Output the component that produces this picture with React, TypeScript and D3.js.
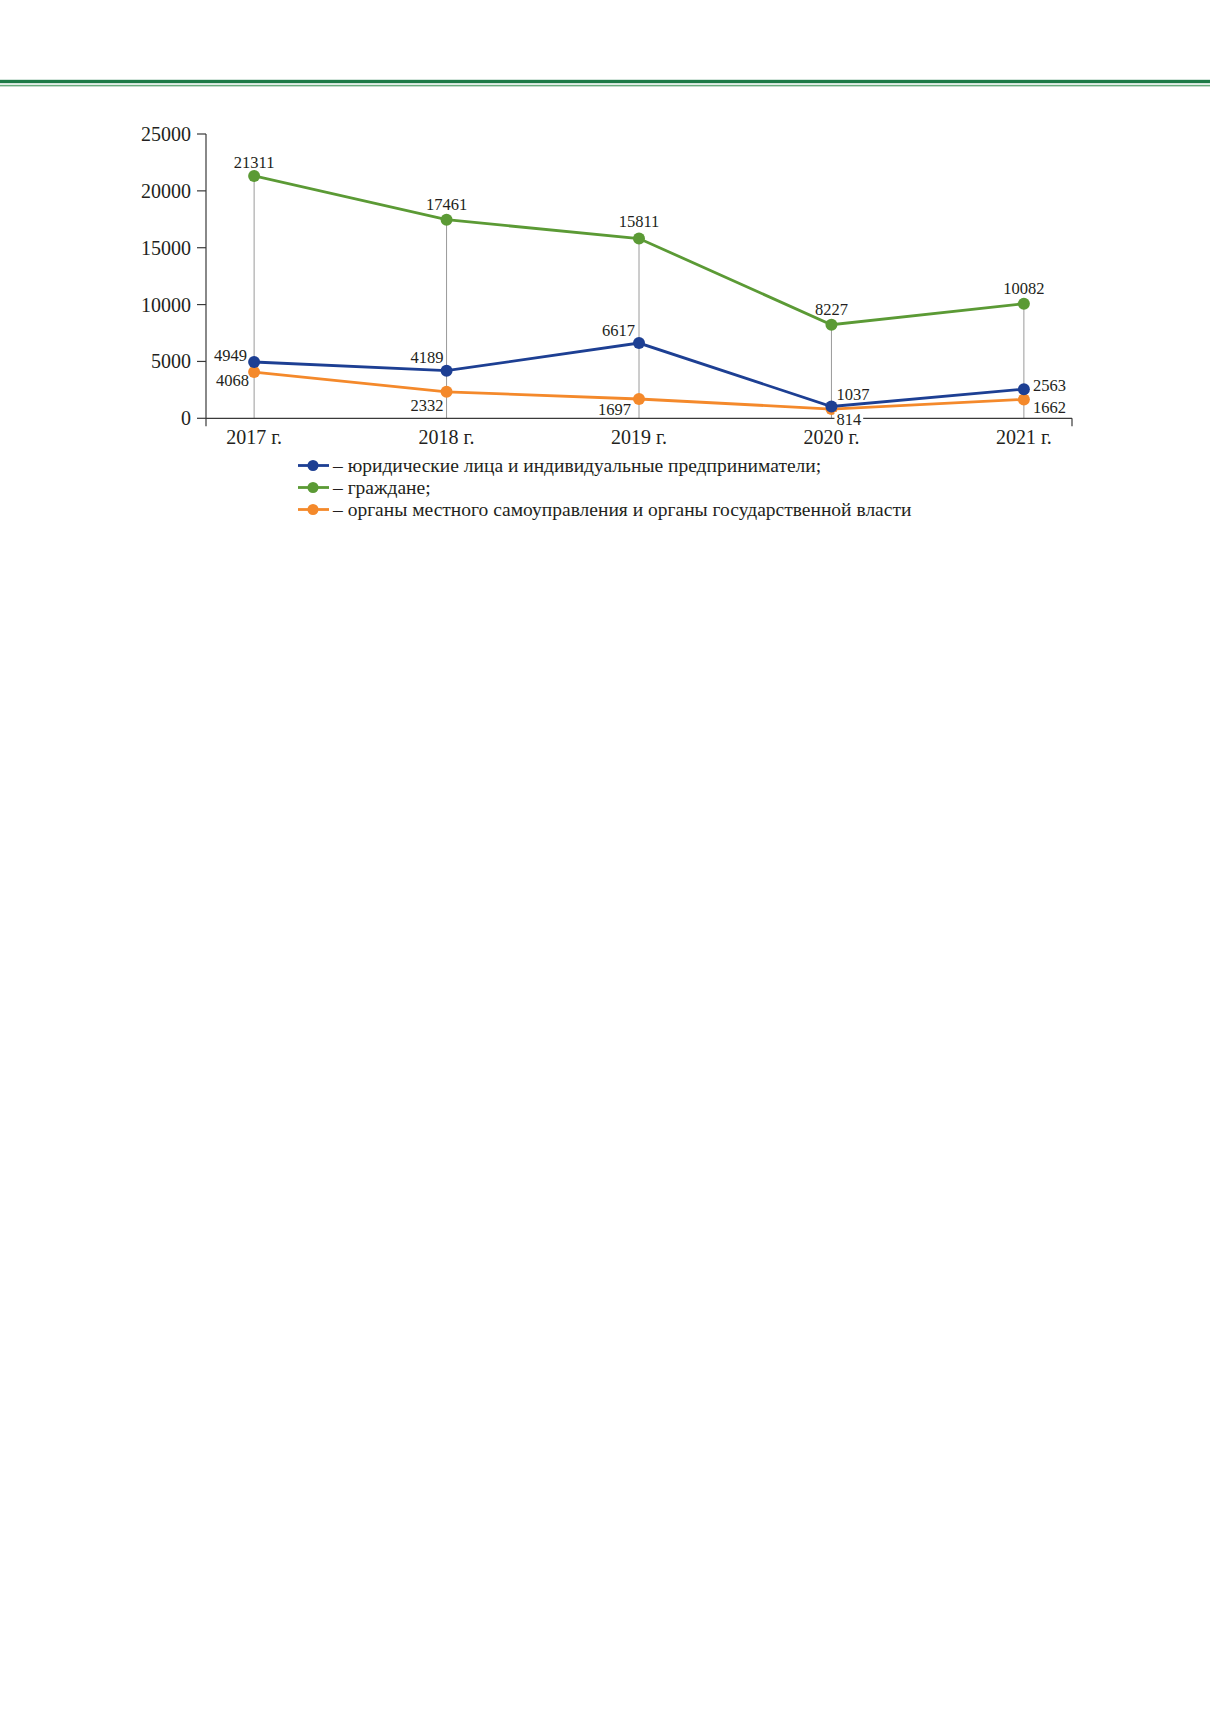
import * as d3 from 'd3'
import { useEffect, useRef } from 'react'

const years = ['2017 г.', '2018 г.', '2019 г.', '2020 г.', '2021 г.']
const legal = [4949, 4189, 6617, 1037, 2563]
const citizens = [21311, 17461, 15811, 8227, 10082]
const authorities = [4068, 2332, 1697, 814, 1662]
const yTicks = [0, 5000, 10000, 15000, 20000, 25000]
const legendLabels = [
  '– юридические лица и индивидуальные предприниматели;',
  '– граждане;',
  '– органы местного самоуправления и органы государственной власти',
]

const BLUE = '#1d3f93'
const GREEN = '#5b9a35'
const ORANGE = '#f4892b'

// label placement per series: [dx, dy, anchor]
type Place = [number, number, string]
const legalPlace: Place[] = [[-7, -1, 'end'], [-3, -8, 'end'], [-4, -7, 'end'], [5, -7, 'start'], [9, 2, 'start']]
const citizensPlace: Place[] = [[0, -8, 'middle'], [0, -10, 'middle'], [0, -11, 'middle'], [0, -10, 'middle'], [0, -10, 'middle']]
const authPlace: Place[] = [[-5, 14, 'end'], [-3, 19, 'end'], [-8, 16, 'end'], [5, 16, 'start'], [9, 14, 'start']]

export default function App() {
  const ref = useRef<SVGSVGElement | null>(null)

  useEffect(() => {
    if (!ref.current) return
    const svg = d3.select(ref.current)
    svg.selectAll('*').remove()

    const font = '"Liberation Serif", "Times New Roman", serif'

    // header rules
    svg.append('rect').attr('x', 0).attr('y', 79.8).attr('width', 1210).attr('height', 3.4).attr('fill', '#1d7a46')
    svg.append('rect').attr('x', 0).attr('y', 84.8).attr('width', 1210).attr('height', 1.6).attr('fill', '#6aab7d')

    const left = 206, right = 1072, top = 134, bottom = 418.3
    const x = d3.scalePoint<string>().domain(years).range([left, right]).padding(0.25)
    const y = d3.scaleLinear().domain([0, 25000]).range([bottom, top])

    const g = svg.append('g').attr('font-family', font).attr('fill', '#231f20')

    // drop lines
    years.forEach((yr, i) => {
      const top = Math.max(legal[i], citizens[i], authorities[i])
      g.append('line')
        .attr('x1', x(yr)!).attr('x2', x(yr)!)
        .attr('y1', y(top)).attr('y2', bottom)
        .attr('stroke', '#9a9a9a').attr('stroke-width', 1)
    })

    // y axis
    g.append('line').attr('x1', left).attr('x2', left).attr('y1', top).attr('y2', bottom + 8)
      .attr('stroke', '#3a3a3a').attr('stroke-width', 1.2)
    yTicks.forEach(t => {
      g.append('line').attr('x1', left - 9).attr('x2', left).attr('y1', y(t)).attr('y2', y(t))
        .attr('stroke', '#3a3a3a').attr('stroke-width', 1.2)
      g.append('text').attr('x', left - 15).attr('y', y(t)).attr('dy', '0.35em')
        .attr('text-anchor', 'end').attr('font-size', 20).attr('fill', '#231f20')
        .text(String(t))
    })

    // x axis
    g.append('line').attr('x1', left).attr('x2', right).attr('y1', bottom).attr('y2', bottom)
      .attr('stroke', '#3a3a3a').attr('stroke-width', 1.2)
    g.append('line').attr('x1', right).attr('x2', right).attr('y1', bottom).attr('y2', bottom + 8)
      .attr('stroke', '#3a3a3a').attr('stroke-width', 1.2)
    years.forEach(yr => {
      g.append('text').attr('x', x(yr)!).attr('y', 444)
        .attr('text-anchor', 'middle').attr('font-size', 20).attr('fill', '#231f20')
        .text(yr)
    })

    const series: Array<{ values: number[]; color: string; place: Place[] }> = [
      { values: citizens, color: GREEN, place: citizensPlace },
      { values: authorities, color: ORANGE, place: authPlace },
      { values: legal, color: BLUE, place: legalPlace },
    ]

    const line = d3.line<number>().x((_, i) => x(years[i])!).y(d => y(d))

    series.forEach(s => {
      g.append('path').datum(s.values).attr('d', line)
        .attr('fill', 'none').attr('stroke', s.color).attr('stroke-width', 2.8)
      s.values.forEach((v, i) => {
        g.append('circle').attr('cx', x(years[i])!).attr('cy', y(v)).attr('r', 6).attr('fill', s.color)
      })
    })

    series.forEach(s => {
      s.values.forEach((v, i) => {
        const [dx, dy, anchor] = s.place[i]
        const tx = x(years[i])! + dx
        const ty = y(v) + dy
        const t = g.append('text').attr('x', tx).attr('y', ty)
          .attr('text-anchor', anchor).attr('font-size', 16.5).attr('fill', '#231f20')
          .text(String(v))
        if (v === 814) {
          const bb = (t.node() as SVGTextElement).getBBox()
          g.insert('rect', () => t.node() as SVGTextElement)
            .attr('x', bb.x - 2).attr('y', bb.y + 2).attr('width', bb.width + 4).attr('height', bb.height - 2)
            .attr('fill', '#fff')
        }
      })
    })

    // legend
    const colors = [BLUE, GREEN, ORANGE]
    legendLabels.forEach((lab, i) => {
      const ly = 465.5 + i * 22
      g.append('line').attr('x1', 298).attr('x2', 329).attr('y1', ly).attr('y2', ly)
        .attr('stroke', colors[i]).attr('stroke-width', 2.8)
      g.append('circle').attr('cx', 313).attr('cy', ly).attr('r', 5.5).attr('fill', colors[i])
      g.append('text').attr('x', 333).attr('y', ly).attr('dy', '0.33em')
        .attr('font-size', 19.5).attr('fill', '#231f20')
        .text(lab)
    })
  }, [])

  return (
    <svg ref={ref} width={1210} height={1712}
      style={{ position: 'absolute', left: 0, top: 0, background: '#fff' }} />
  )
}
